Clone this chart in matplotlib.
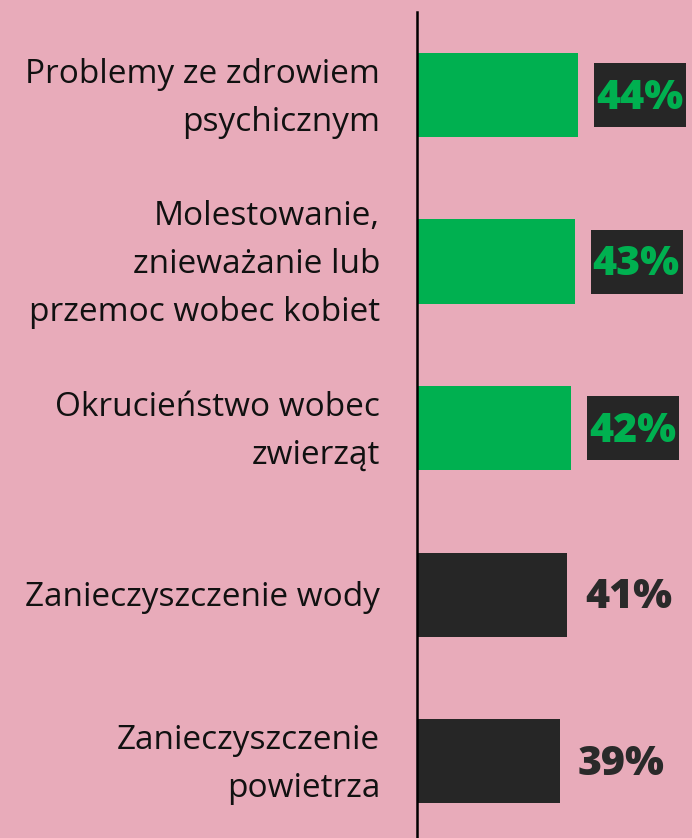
import matplotlib
matplotlib.use("Agg")
import matplotlib.pyplot as plt
from matplotlib.patches import Rectangle
from matplotlib.transforms import blended_transform_factory, ScaledTranslation

categories = [
    "Problemy ze zdrowiem\npsychicznym",
    "Molestowanie,\nznieważanie lub\nprzemoc wobec kobiet",
    "Okrucieństwo wobec\nzwierząt",
    "Zanieczyszczenie wody",
    "Zanieczyszczenie\npowietrza",
]
values = [44, 43, 42, 41, 39]
highlight = [True, True, True, False, False]

BG = "#E8ABBA"
GREEN = "#00B050"
DARK = "#262626"

W, H, DPI = 692, 838, 100
fig = plt.figure(figsize=(W / DPI, H / DPI), dpi=DPI, facecolor=BG)
ax = fig.add_axes([417 / W, 0, 1 - 417 / W, (H - 12) / H])
ax.set_facecolor(BG)

ypos = list(range(len(categories)))
colors = [GREEN if h else DARK for h in highlight]
ax.barh(ypos, values, height=0.505, color=colors, edgecolor="none")

ax.set_xlim(0, 75)
ax.set_ylim(4.462, -0.4985)
for s in ["top", "right", "bottom"]:
    ax.spines[s].set_visible(False)
ax.spines["left"].set_color("black")
ax.spines["left"].set_linewidth(1.8)
ax.set_xticks([])
ax.set_yticks([])

blend = blended_transform_factory(ax.transAxes, ax.transData)
for y, lab in zip(ypos, categories):
    tr = blend + ScaledTranslation(-37 / DPI, -3 / DPI, fig.dpi_scale_trans)
    ax.text(0, y, lab, transform=tr, fontsize=24, family="Open Sans",
            color="#111111", linespacing=1.6, ha="right", va="center",
            multialignment="right")

texts = []
for y, v, h in zip(ypos, values, highlight):
    t = ax.annotate(f"{v}%", xy=(v, y), xytext=(18, -3),
                    textcoords="offset pixels", ha="left", va="center",
                    fontsize=29.5, fontweight=800, family="Open Sans",
                    color=GREEN if h else "#2a2a2a", zorder=5)
    texts.append((t, h))

fig.canvas.draw()
r = fig.canvas.get_renderer()
inv = ax.transData.inverted()
for (t, h), y in zip(texts, ypos):
    if not h:
        continue
    bb = t.get_window_extent(r)
    cy = ax.transData.transform((0, y))[1]
    x0, x1 = bb.x0 - 2, bb.x1 + 3
    y0, y1 = cy - 32, cy + 32
    (dx0, dy0) = inv.transform((x0, y0))
    (dx1, dy1) = inv.transform((x1, y1))
    ax.add_patch(Rectangle((dx0, min(dy0, dy1)), dx1 - dx0, abs(dy1 - dy0),
                           facecolor=DARK, edgecolor="none", zorder=4,
                           clip_on=False))

fig.savefig("out.png", dpi=DPI, facecolor=BG)
